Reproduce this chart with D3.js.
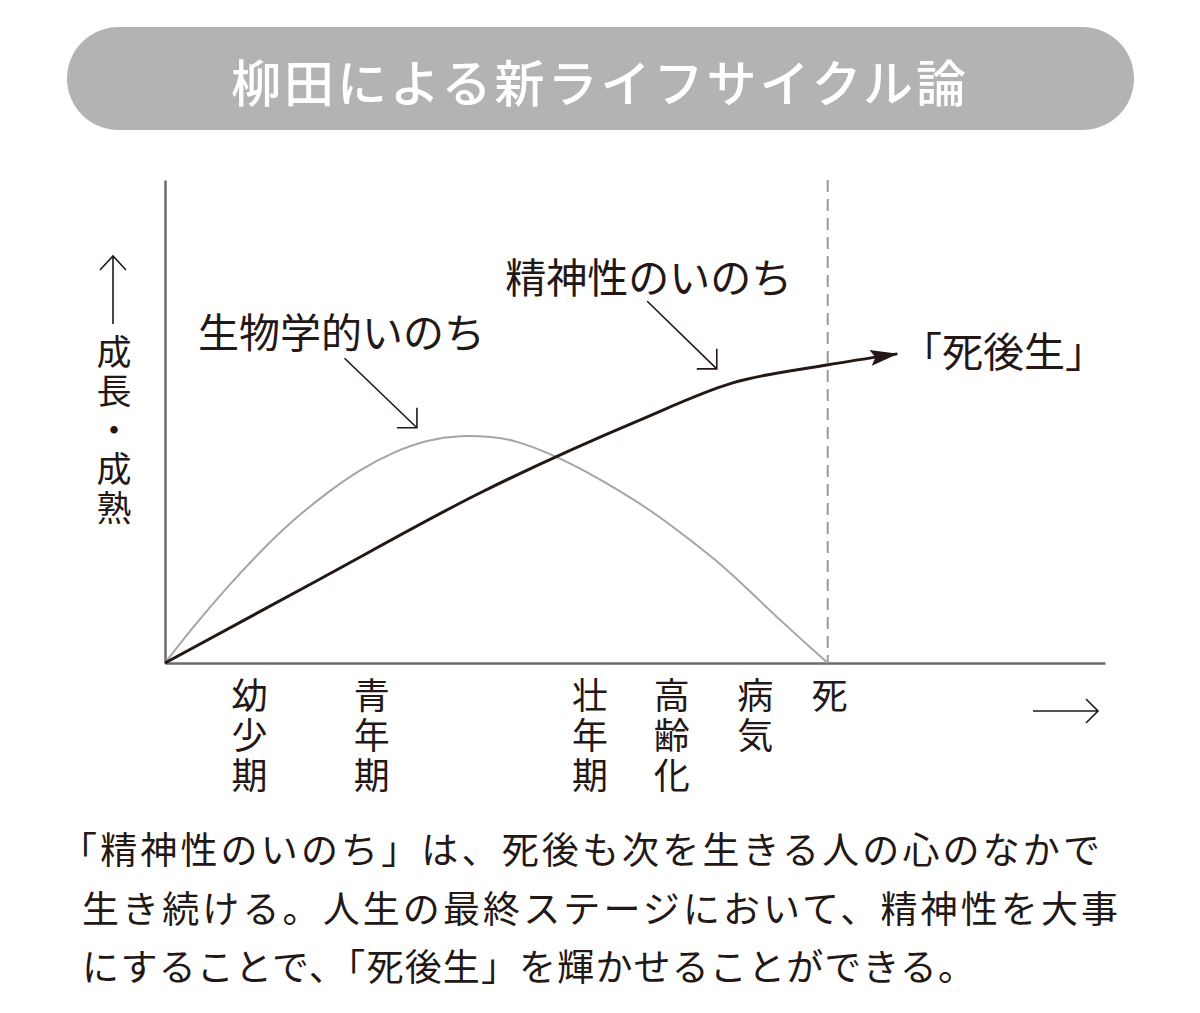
<!DOCTYPE html>
<html>
<head>
<meta charset="utf-8">
<script src="https://cdn.jsdelivr.net/npm/d3@7"></script>
<style>
  html, body { margin: 0; padding: 0; background: #fff; }
  svg { display: block; font-family: "Noto Sans CJK JP", "Noto Sans", sans-serif; }
  .vert { writing-mode: vertical-rl; }
</style>
</head>
<body>
<script>
// --- data ---
const titleText = '柳田による新ライフサイクル論';
// biological life (gray), [age, level]
const bioLife = [
  [0, 0], [3.0, 7.5], [6.6, 15.7], [10.1, 23.0], [13.6, 29.6], [17.2, 35.2], [20.7, 40.0],
  [24.3, 43.7], [27.9, 46.2], [31.4, 47.2], [34.9, 46.8], [37.0, 46.2], [40.6, 43.7],
  [44.1, 40.4], [47.7, 36.4], [51.3, 32.1], [54.8, 27.1], [58.4, 21.7], [61.9, 15.5],
  [65.4, 8.9], [70.5, 0]
];
// spiritual life (black), continues past death
const spiritLife = [[0, 0], [16.5, 17.4], [33.5, 35.2], [50.5, 50.3], [60.4, 58.0], [70.4, 61.7], [77.9, 64.0]];
const deathAge = 70.5;
const stageAges = [9.0, 22.0, 45.2, 53.9, 62.8, 70.7];
const stageLabels = ['幼少期', '青年期', '壮年期', '高齢化', '病気', '死'];
const yLabelText = '成長・成熟';
const seriesLabels = ['生物学的いのち', '精神性のいのち', '「死後生」'];
const bodyLines = [
  '「精神性のいのち」は、死後も次を生きる人の心のなかで',
  '生き続ける。人生の最終ステージにおいて、精神性を大事',
  'にすることで、「死後生」を輝かせることができる。'
];

const W = 1200, H = 1013;
const svg = d3.select('body').append('svg')
    .attr('width', W)
    .attr('height', H);

// title pill
svg.append('rect')
    .attr('x', 67).attr('y', 27)
    .attr('width', 1067).attr('height', 103)
    .attr('rx', 51.5)
    .attr('fill', '#b3b3b3');
svg.append('text')
    .attr('x', 600).attr('y', 80)
    .attr('text-anchor', 'middle')
    .attr('dominant-baseline', 'central')
    .attr('fill', '#fff')
    .attr('font-size', 50)
    .attr('font-weight', 500)
    .attr('letter-spacing', 3)
    .text(titleText);

// scales
const x = d3.scaleLinear().domain([0, 100]).range([165, 1105]);
const y = d3.scaleLinear().domain([0, 100]).range([663, 180]);

// dashed line at death
svg.append('line')
    .attr('x1', x(deathAge)).attr('x2', x(deathAge))
    .attr('y1', y(100)).attr('y2', y(0))
    .attr('stroke', '#999')
    .attr('stroke-width', 2)
    .attr('stroke-dasharray', '12,7');

// axes (lines only)
const xAxis = svg.append('g')
    .attr('transform', 'translate(0,' + y(0) + ')')
    .call(d3.axisBottom(x).tickValues([]).tickSizeOuter(0));
const yAxis = svg.append('g')
    .attr('transform', 'translate(' + x(0) + ',0)')
    .call(d3.axisLeft(y).tickValues([]).tickSizeOuter(0));
[xAxis, yAxis].forEach(a => a.select('.domain').attr('stroke', '#6b6b6b').attr('stroke-width', 2.5));

// arrow marker for the spiritual curve
svg.append('defs').append('marker')
    .attr('id', 'head')
    .attr('viewBox', '0 0 28 16')
    .attr('refX', 27).attr('refY', 8)
    .attr('markerWidth', 28).attr('markerHeight', 16)
    .attr('markerUnits', 'userSpaceOnUse')
    .attr('orient', 'auto')
    .append('path')
    .attr('d', 'M0,0 L28,8 L0,16 L5,8 Z')
    .attr('fill', '#231815');

const line = d3.line().x(d => x(d[0])).y(d => y(d[1])).curve(d3.curveBasis);

svg.append('path')
    .datum(bioLife)
    .attr('d', line)
    .attr('fill', 'none')
    .attr('stroke', '#a5a5a5')
    .attr('stroke-width', 2);

svg.append('path')
    .datum(spiritLife)
    .attr('d', line.curve(d3.curveMonotoneX))
    .attr('fill', 'none')
    .attr('stroke', '#231815')
    .attr('stroke-width', 3)
    .attr('marker-end', 'url(#head)');

// series labels and pointers
const labelPos = [[3.5, 68.9], [36.2, 80.3], [78.3, 65.0]];
svg.selectAll('.slabel')
    .data(seriesLabels)
    .join('text')
    .attr('class', 'slabel')
    .attr('x', (d, i) => x(labelPos[i][0]))
    .attr('y', (d, i) => y(labelPos[i][1]))
    .attr('dominant-baseline', 'central')
    .attr('font-size', 41)
    .attr('fill', '#231815')
    .text(d => d);

const pointers = [[[19.1, 63.1], [26.8, 48.7]], [[51.3, 74.9], [58.7, 60.9]]];
pointers.forEach(p => {
  const x1 = x(p[0][0]), y1 = y(p[0][1]), x2 = x(p[1][0]), y2 = y(p[1][1]);
  svg.append('path')
      .attr('d', `M${x1},${y1}L${x2},${y2}M${x2 - 20},${y2}L${x2},${y2}L${x2},${y2 - 20}`)
      .attr('fill', 'none')
      .attr('stroke', '#231815')
      .attr('stroke-width', 1.6);
});

// y axis label (vertical) with up arrow
svg.append('path')
    .attr('d', 'M113,324V256M100,270L113,256L126,270')
    .attr('fill', 'none')
    .attr('stroke', '#231815')
    .attr('stroke-width', 1.6);
svg.append('text')
    .attr('class', 'vert')
    .attr('x', 114)
    .attr('y', 334)
    .attr('font-size', 35)
    .attr('letter-spacing', 4)
    .attr('fill', '#231815')
    .text(yLabelText);

// stage labels (vertical stacks)
svg.selectAll('.stage')
    .data(stageLabels)
    .join('text')
    .attr('class', 'stage vert')
    .attr('x', (d, i) => x(stageAges[i]))
    .attr('y', 677)
    .attr('font-size', 36)
    .attr('letter-spacing', 4)
    .attr('fill', '#231815')
    .text(d => d);

// x direction arrow
svg.append('path')
    .attr('d', 'M1033,711H1098M1086,699L1098,711L1086,723')
    .attr('fill', 'none')
    .attr('stroke', '#231815')
    .attr('stroke-width', 1.6);

// explanation text
const bodyX = [60, 82, 82];
const bodyLen = [1040, 1036, 893];
svg.selectAll('.body')
    .data(bodyLines)
    .join('text')
    .attr('class', 'body')
    .attr('x', (d, i) => bodyX[i])
    .attr('y', (d, i) => 848 + i * 58.5)
    .attr('dominant-baseline', 'central')
    .attr('font-size', 37)
    .attr('fill', '#231815')
    .attr('textLength', (d, i) => bodyLen[i])
    .attr('lengthAdjust', 'spacing')
    .text(d => d);
</script>
</body>
</html>
